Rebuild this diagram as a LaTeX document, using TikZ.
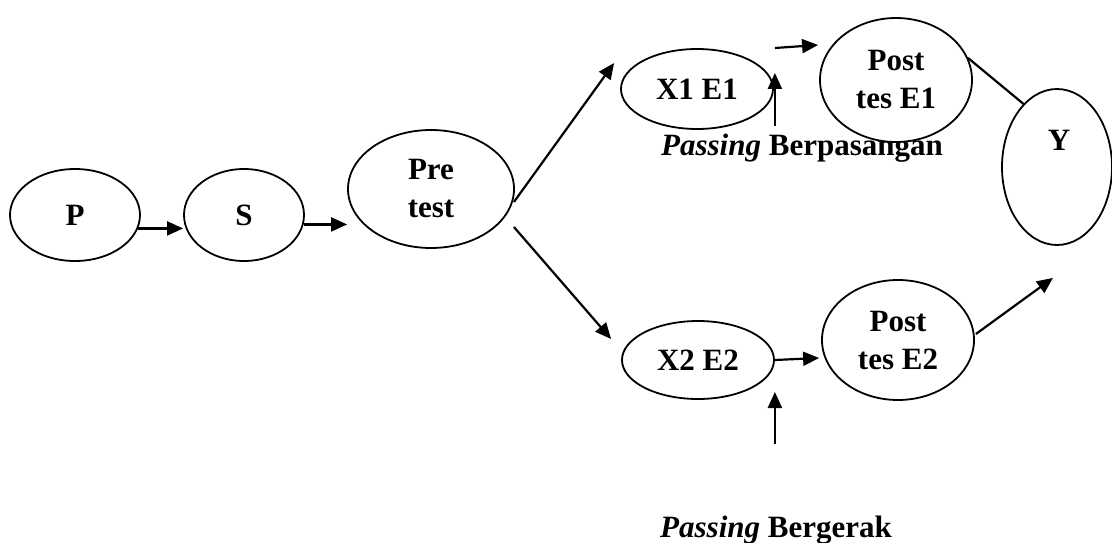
\documentclass[tikz,border=0pt]{standalone}
\usepackage{fontspec}
\setmainfont{Liberation Serif}
\usetikzlibrary{shapes.geometric,arrows.meta,calc}
\begin{document}
\begin{tikzpicture}[x=1pt,y=-1pt,
  el/.style={draw, ellipse, fill=white, line width=1.8pt, inner sep=0pt, align=center,
    font=\fontsize{31}{38}\selectfont\bfseries},
  arr/.style={line width=2.2pt, -{Triangle[length=16pt,width=14pt]}},
  ln/.style={line width=2.2pt},
  lab/.style={font=\fontsize{31}{38}\selectfont\bfseries, inner sep=0pt}]
\useasboundingbox (0,0) rectangle (1112,543);
% labels drawn first (ellipse covers part of upper label)
\node[lab] (L1) at (802,148) {\textit{Passing} Berpasangan};
\node[lab] (L2) at (776,530) {\textit{Passing} Bergerak};
% nodes
\node[el, minimum width=130pt, minimum height=92pt] (P) at (75,215) {P};
\node[el, minimum width=120pt, minimum height=92pt] (S) at (244,215) {S};
\node[el, minimum width=166pt, minimum height=118pt] (Pre) at (431,189) {Pre\\test};
\node[el, minimum width=152pt, minimum height=80pt] (X1) at (697,89) {X1 E1};
\node[el, minimum width=152pt, minimum height=124pt] (PE1) at (896,80) {Post\\tes E1};
\node[el, minimum width=110pt, minimum height=156pt] (Y) at (1057,167) {};
\node[lab] (Ylab) at (1059,140) {Y};
\node[el, minimum width=152pt, minimum height=78pt] (X2) at (698,360) {X2 E2};
\node[el, minimum width=152pt, minimum height=120pt] (PE2) at (898,340) {Post\\tes E2};
% connectors
\draw[arr] (P.-12) -- (S.west |- P.-12);
\draw[arr] (S.-9) -- (Pre.west |- S.-9);
\draw[arr] ($(Pre.east)+(-1,13)$) -- ($(X1.west)+(-6,-26)$);
\draw[arr] ($(Pre.east)+(-1,38)$) -- ($(X2.west)+(-10,-21)$);
\draw[arr] ($(X1.east)+(1,-41)$) -- ($(PE1.west)+(-1,-35)$);
\draw[arr] ($(X1.east)+(1,37)$) -- ($(X1.east)+(1,-16)$);
\draw[ln] (PE1.17) -- (Y.118);
\draw[arr] (X2.east) -- ($(PE2.west)+(-2,18)$);
\draw[arr] ($(X2.east)+(0,84)$) -- ($(X2.east)+(0,32)$);
\draw[arr] ($(PE2.east)+(1,-6)$) -- ($(Y.south)+(-4,32)$);
\end{tikzpicture}
\end{document}
